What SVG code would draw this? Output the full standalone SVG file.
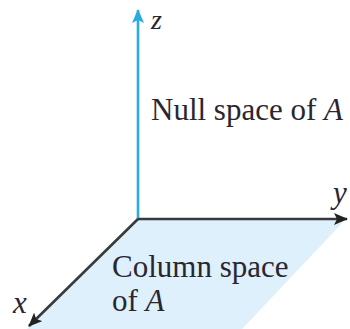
<svg xmlns="http://www.w3.org/2000/svg" width="350" height="329" viewBox="0 0 350 329">
<style>
text{font-family:'Liberation Serif','DejaVu Serif',serif;font-size:31px;fill:#2a2630}
.i{font-style:italic}
.ax{stroke:#3a3a3a;stroke-width:2.6;fill:none}
</style>
<defs>
<marker id="ah" viewBox="0 0 14 12" refX="13" refY="6" markerWidth="14" markerHeight="12" markerUnits="userSpaceOnUse" orient="auto">
<path d="M0,0 L14,6 L0,12 L3,6 Z" fill="#222"/>
</marker>
<marker id="ahb" viewBox="0 0 14 12" refX="13" refY="6" markerWidth="14" markerHeight="12" markerUnits="userSpaceOnUse" orient="auto">
<path d="M0,0 L14,6 L0,12 L3,6 Z" fill="#29abe2"/>
</marker>
</defs>
<g id="plane">
<polygon points="138,219 346,219 242,329 27,329" fill="#ddf0fb"/>
</g>
<g id="connectors">
<line x1="138" y1="219" x2="138" y2="10" stroke="#29abe2" stroke-width="2.6" marker-end="url(#ahb)"/>
<line class="ax" x1="138" y1="219" x2="347" y2="219" stroke="#555" marker-end="url(#ah)"/>
<line class="ax" x1="138" y1="219" x2="29" y2="326" marker-end="url(#ah)"/>
</g>
<g id="labels">
<text class="i" x="151" y="29" style="font-size:28px">z</text>
<text class="i" x="333" y="203">y</text>
<text class="i" x="13" y="313">x</text>
<text x="151" y="120">Null space of <tspan class="i">A</tspan></text>
<text x="112" y="277">Column space</text>
<text x="112" y="311">of <tspan class="i">A</tspan></text>
</g>
</svg>
